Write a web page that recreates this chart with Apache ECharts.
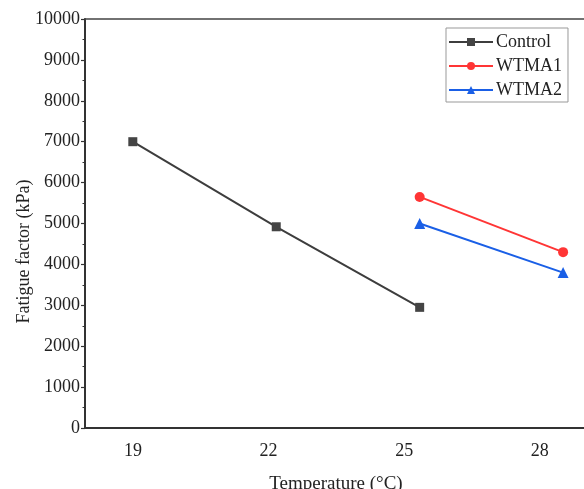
<!DOCTYPE html>
<html>
<head>
<meta charset="utf-8">
<script src="https://cdn.jsdelivr.net/npm/echarts@6/dist/echarts.min.js"></script>
<style>
  html, body { margin: 0; padding: 0; background: #fff; }
  #chart { width: 584px; height: 489px; }
</style>
</head>
<body>
<div id="chart"></div>
<script>
// Fatigue factor versus test temperature
const controlTemps = [19, 22, 25];
const controlValues = [7000, 4920, 2950];
const wtmaTemps = [25, 28];
const wtma1Values = [5650, 4300];
const wtma2Values = [5000, 3800];
const tempTickLabels = [19, 22, 25, 28];
const yTicks = { min: 0, max: 10000, step: 1000 };

const serif = '"Liberation Serif", "Times New Roman", serif';
const ink = '#222';

function pairs(xs, ys) {
  return xs.map((x, i) => [x, ys[i]]);
}

const chart = echarts.init(document.getElementById('chart'), null, { renderer: 'canvas' });

chart.setOption({
  animation: false,
  backgroundColor: '#fff',
  grid: {
    left: 85, top: 19, width: 502, height: 409,
    outerBoundsMode: 'none',
    containLabel: false,
    show: false
  },
  legend: {
    orient: 'vertical',
    left: 446, top: 28,
    padding: [5, 6, 3, 2],
    borderColor: '#999', borderWidth: 1,
    backgroundColor: '#fff',
    itemWidth: 44, itemHeight: 10, itemGap: 6,
    textStyle: { fontFamily: serif, fontSize: 18, color: ink, padding: [0, 0, 0, -2] },
    data: ['Control', 'WTMA1', 'WTMA2']
  },
  xAxis: [
    {
      // data scale
      type: 'value', min: 18, max: 28.5,
      axisLine: { show: true, onZero: false, lineStyle: { color: '#333', width: 2 } },
      axisTick: { show: false },
      axisLabel: { show: false },
      splitLine: { show: false },
      name: 'Temperature (\u00B0C)',
      nameLocation: 'middle', nameGap: 47, nameMoveOverlap: false,
      nameTextStyle: { fontFamily: serif, fontSize: 19, color: ink }
    },
    {
      // temperature tick labels
      type: 'value', position: 'bottom', min: 17.938, max: 29.044,
      axisLine: { show: false },
      axisTick: { show: false },
      splitLine: { show: false },
      axisLabel: {
        customValues: tempTickLabels,
        margin: 14,
        fontFamily: serif, fontSize: 18, color: ink
      }
    },
    {
      // top frame line
      type: 'value', position: 'top', min: 18, max: 28.5,
      axisLine: { show: true, onZero: false, lineStyle: { color: '#444', width: 1.5 } },
      axisTick: { show: false },
      axisLabel: { show: false },
      splitLine: { show: false }
    }
  ],
  yAxis: {
    type: 'value', min: yTicks.min, max: yTicks.max, interval: yTicks.step,
    axisLine: { show: true, lineStyle: { color: '#333', width: 2 } },
    axisTick: { show: true, inside: false, length: 4, lineStyle: { color: '#333', width: 1.2 } },
    minorTick: { show: true, splitNumber: 2, length: 2.5, lineStyle: { color: '#333', width: 1 } },
    splitLine: { show: false },
    axisLabel: {
      margin: 5, fontFamily: serif, fontSize: 18, color: ink,
      formatter: (v) => String(v)
    },
    name: 'Fatigue factor (kPa)',
    nameLocation: 'middle', nameGap: 52, nameMoveOverlap: false,
    // title sits a little below the vertical middle of the axis
    nameTextStyle: { fontFamily: serif, fontSize: 18, color: ink, padding: [0, 56, 0, 0] }
  },
  series: [
    {
      name: 'Control', type: 'line', xAxisIndex: 0,
      data: pairs(controlTemps, controlValues),
      symbol: 'rect', symbolSize: 9,
      lineStyle: { color: '#3d3d3d', width: 2 },
      itemStyle: { color: '#444' }
    },
    {
      name: 'WTMA1', type: 'line', xAxisIndex: 0,
      data: pairs(wtmaTemps, wtma1Values),
      symbol: 'circle', symbolSize: 10,
      lineStyle: { color: '#ff3535', width: 2 },
      itemStyle: { color: '#ff3535' }
    },
    {
      name: 'WTMA2', type: 'line', xAxisIndex: 0,
      data: pairs(wtmaTemps, wtma2Values),
      symbol: 'triangle', symbolSize: 11,
      lineStyle: { color: '#1a5fe6', width: 2 },
      itemStyle: { color: '#1a5fe6' }
    }
  ]
});
</script>
</body>
</html>
